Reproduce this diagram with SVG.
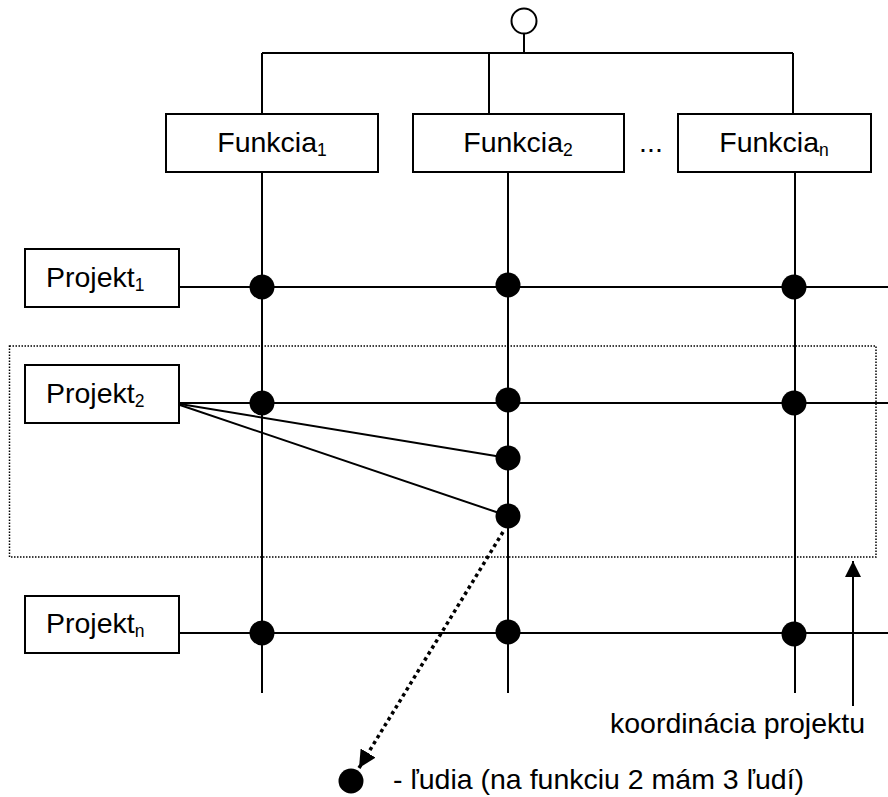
<svg xmlns="http://www.w3.org/2000/svg" width="888" height="797" viewBox="0 0 888 797">
<style>
.box{fill:#fff;stroke:#000;stroke-width:2}
.ln{stroke:#000;stroke-width:2;fill:none}
.t{font-family:"Liberation Sans",Arial,sans-serif;font-size:28.5px;fill:#000}
.sub{font-size:17.5px;fill:#000}
.dot{fill:#000}
</style>
<defs>
<marker id="ah" viewBox="0 0 10 10" refX="10" refY="5" markerWidth="5" markerHeight="5" markerUnits="strokeWidth" orient="auto">
<path d="M0,0 L10,5 L0,10 z" fill="#000"/>
</marker>
<marker id="ah2" viewBox="0 0 10 10" refX="10" refY="5" markerWidth="8" markerHeight="8" markerUnits="strokeWidth" orient="auto">
<path d="M0,0 L10,5 L0,10 z" fill="#000"/>
</marker>
</defs>
<g id="connectors">
<line class="ln" x1="524" y1="33" x2="524" y2="53"/>
<line class="ln" x1="262" y1="53" x2="793" y2="53"/>
<line class="ln" x1="262" y1="53" x2="262" y2="114"/>
<line class="ln" x1="489" y1="53" x2="489" y2="114"/>
<line class="ln" x1="793" y1="53" x2="793" y2="114"/>
<line class="ln" x1="262" y1="172" x2="262" y2="693"/>
<line class="ln" x1="508" y1="172" x2="508" y2="693"/>
<line class="ln" x1="795" y1="172" x2="795" y2="693"/>
<line class="ln" x1="179" y1="287" x2="888" y2="287"/>
<line class="ln" x1="174" y1="403" x2="888" y2="403"/>
<line class="ln" x1="179" y1="633" x2="888" y2="633"/>
<line class="ln" x1="174" y1="403" x2="508" y2="458"/>
<line class="ln" x1="174" y1="403" x2="508" y2="516"/>
<rect x="9.5" y="346" width="866.5" height="211" fill="none" stroke="#000" stroke-width="1.5" stroke-dasharray="1.5 1.5"/>
<line x1="503" y1="532" x2="359" y2="768" stroke="#000" stroke-width="3.5" stroke-dasharray="3.5 3.5" marker-end="url(#ah)"/>
<line class="ln" x1="853" y1="706" x2="853" y2="561" marker-end="url(#ah2)"/>
</g>
<g id="root"><circle cx="524" cy="21" r="12.5" fill="#fff" stroke="#000" stroke-width="2"/></g>
<g id="funkcia1"><rect class="box" x="166" y="114" width="212" height="58"/><text class="t" x="272" y="152" text-anchor="middle">Funkcia<tspan class="sub" dy="4">1</tspan></text></g>
<g id="funkcia2"><rect class="box" x="413" y="114" width="211" height="58"/><text class="t" x="518" y="152" text-anchor="middle">Funkcia<tspan class="sub" dy="4">2</tspan></text></g>
<g id="ellipsis"><text class="t" x="651" y="152" text-anchor="middle">...</text></g>
<g id="funkcian"><rect class="box" x="678" y="114" width="193" height="58"/><text class="t" x="774" y="152" text-anchor="middle">Funkcia<tspan class="sub" dy="4">n</tspan></text></g>
<g id="projekt1"><rect class="box" x="25" y="249" width="154" height="58"/><text class="t" x="46" y="287">Projekt<tspan class="sub" dy="4">1</tspan></text></g>
<g id="projekt2"><rect class="box" x="25" y="365" width="154" height="58"/><text class="t" x="46" y="403">Projekt<tspan class="sub" dy="4">2</tspan></text></g>
<g id="projektn"><rect class="box" x="25" y="596" width="154" height="57"/><text class="t" x="46" y="633">Projekt<tspan class="sub" dy="4">n</tspan></text></g>
<g id="dots">
<circle class="dot" cx="262" cy="287" r="12.5"/>
<circle class="dot" cx="508" cy="285" r="12.5"/>
<circle class="dot" cx="794" cy="287" r="12.5"/>
<circle class="dot" cx="262" cy="403" r="12.5"/>
<circle class="dot" cx="508" cy="400" r="12.5"/>
<circle class="dot" cx="794" cy="403" r="12.5"/>
<circle class="dot" cx="508" cy="458" r="12.5"/>
<circle class="dot" cx="508" cy="516" r="12.5"/>
<circle class="dot" cx="262" cy="633" r="12.5"/>
<circle class="dot" cx="508" cy="632" r="12.5"/>
<circle class="dot" cx="794" cy="634" r="12.5"/>
</g>
<g id="legend">
<circle class="dot" cx="351" cy="781" r="12.5"/>
<text class="t" x="393" y="789">- ľudia (na funkciu 2 mám 3 ľudí)</text>
</g>
<g id="coord-label"><text class="t" x="610" y="733">koordinácia projektu</text></g>
</svg>
